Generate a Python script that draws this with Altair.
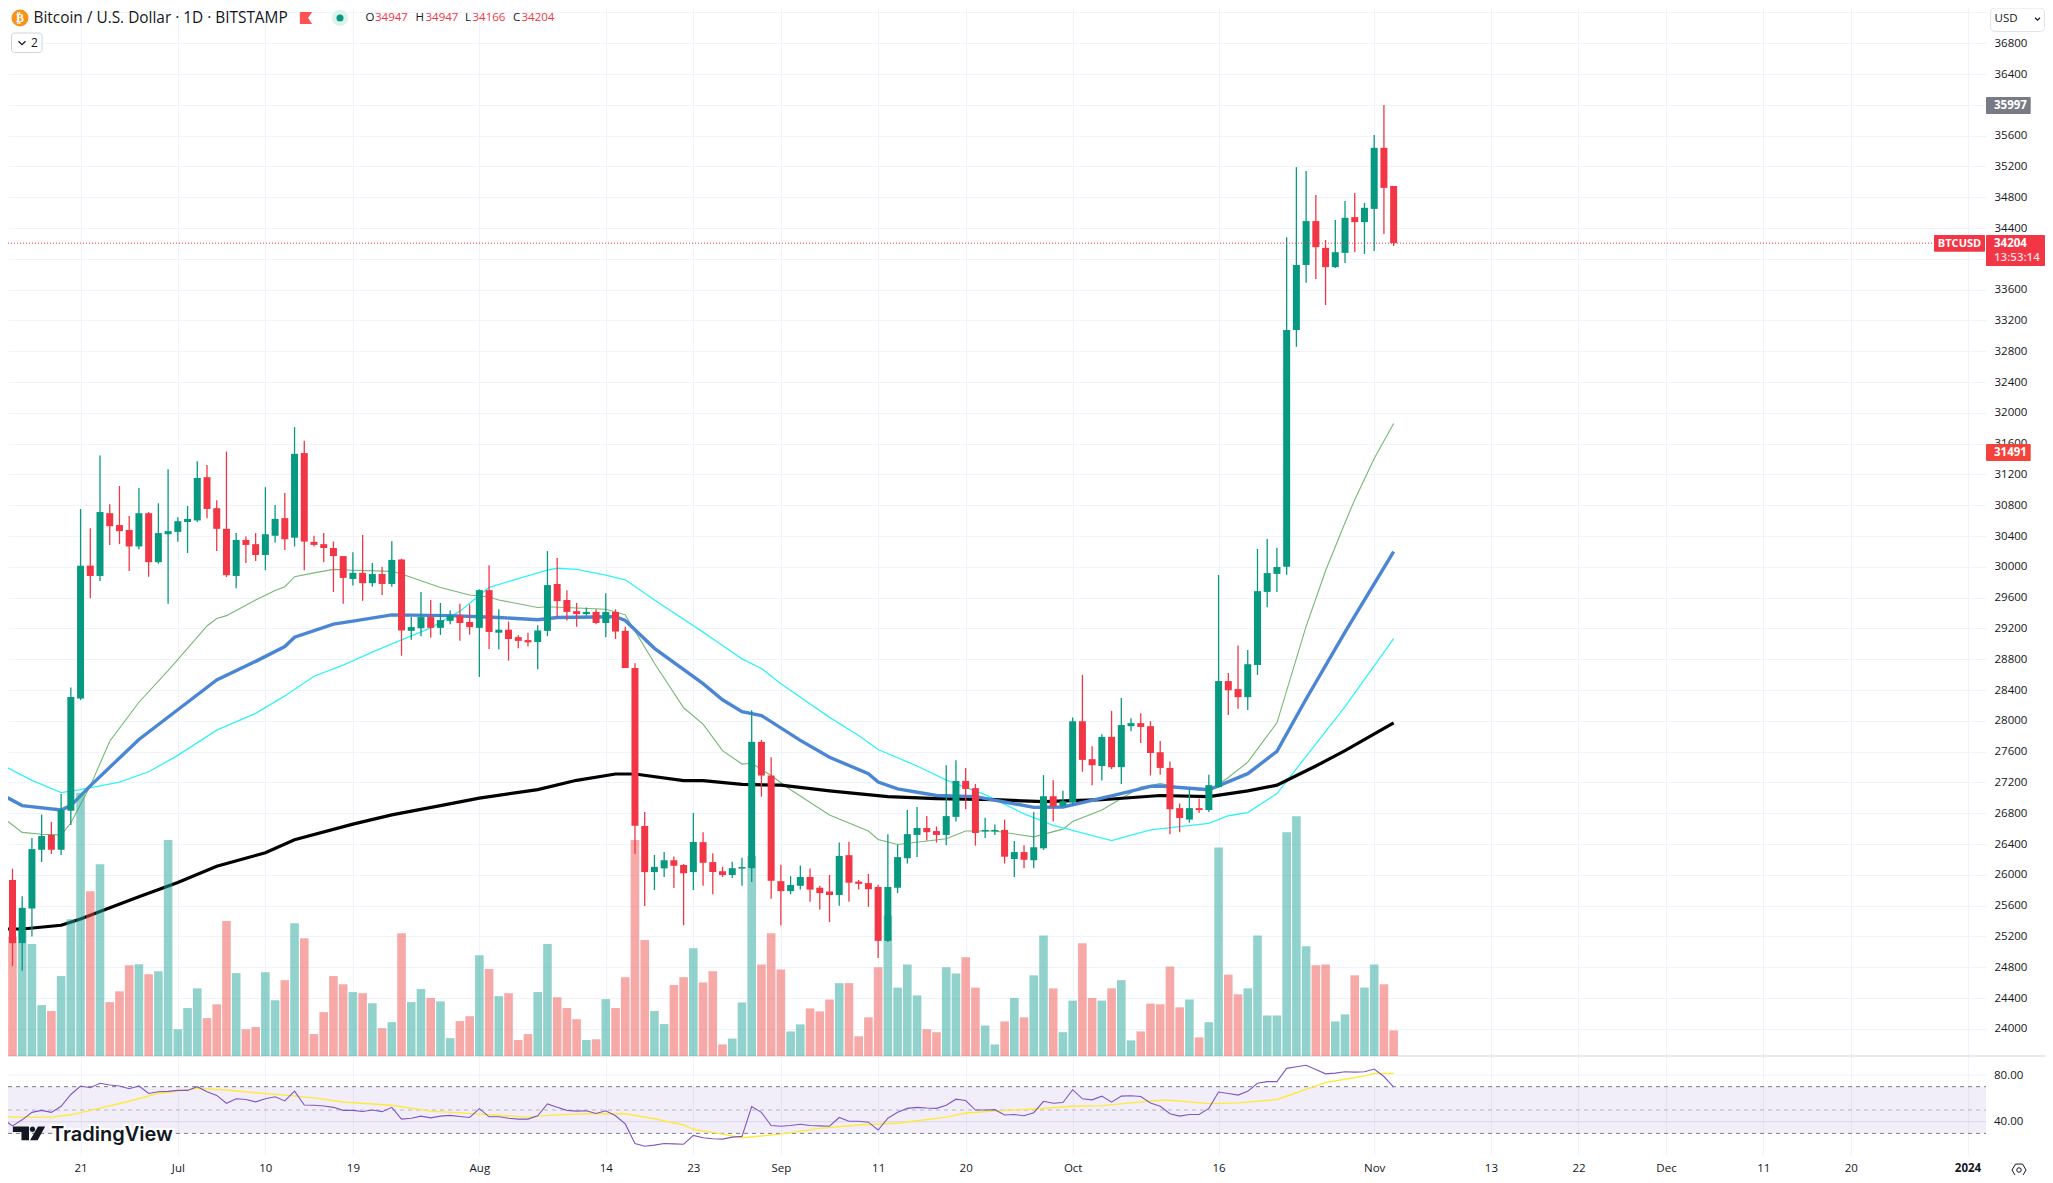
import altair as alt
import pandas as pd

opens = [25915,25934,25114,25563,26326,26519,26326,26833,28290,30016,29882,30697,30543,30479,30265,30697,30061,30424,30454,30583,
30603,31165,30762,30494,29882,30349,30295,30155,30404,30633,30379,31478,30325,30295,30245,30140,29843,29922,29788,29907,
29778,30096,29169,29203,29348,29208,29299,29367,29285,29208,29698,29145,29184,29087,29049,29024,29169,29778,29570,29425,
29387,29415,29271,29415,29169,28686,26635,26036,26084,26190,26128,26036,26425,26166,26047,25998,26082,26087,27727,27290,
25918,25789,25858,25973,25833,25784,25739,26256,25913,25893,25843,25143,25833,26216,26519,26609,26569,26519,26753,27220,
27126,26564,26564,26584,26206,26296,26191,26345,27021,26892,26942,27995,27503,27414,27792,27399,27931,27971,27931,27593,
27389,26867,26718,26867,26842,27140,28517,28413,28308,28726,29675,29909,30001,33076,33921,34491,34143,33893,34078,34542,
34477,34649,35442,34947]
highs = [26432,26079,25722,26480,26784,26688,27050,28435,30752,30503,31448,30812,31050,30662,31025,30712,30826,31269,30643,30792,
31373,31324,30866,31497,30439,30394,30439,31035,30802,30961,31815,31637,30404,30439,30329,30140,30190,30414,30051,29997,
30334,30106,29353,29673,29570,29531,29435,29522,29512,29708,30021,29449,29290,29111,29145,29242,30205,30116,29698,29531,
29473,29449,29658,29449,29222,28749,26818,26258,26297,26239,26142,26804,26554,26281,26107,26171,26221,28139,27752,27528,
26132,25983,26122,26082,25858,25998,26420,26430,25933,26012,25873,26529,26395,26842,26882,26763,26629,27424,27488,27389,
27180,26743,26654,26718,26440,26385,26818,27295,27230,27091,28045,28597,27672,27826,28130,28298,28035,28100,27995,27737,
27473,26927,27106,26991,27300,29894,28622,28979,28920,30232,30361,30247,34282,35191,35140,34830,34245,34505,34751,34857,
34728,35609,35997,34947]
lows = [25708,24814,24756,25201,26166,26272,26258,26649,28270,29594,29818,30285,30295,29947,30230,29872,30041,29522,30325,30180,
30583,30633,30205,29867,29723,30051,30076,29957,30315,30220,30265,29957,30265,30061,29673,29520,29758,29560,29743,29634,
29743,28846,29053,29100,29078,29116,29256,29039,29121,28571,28933,28928,28783,28942,28966,28672,29100,29353,29304,29222,
29367,29256,29087,29063,28686,26272,25597,25804,25973,25828,25346,25804,25858,25749,25972,25958,25858,25908,27016,25689,
25341,25749,25809,25650,25550,25386,25600,25650,25809,25585,24919,25128,25764,26147,26231,26445,26420,26385,26693,26852,
26380,26480,26519,26147,25972,26087,26087,26325,26693,26892,26917,27339,27165,27225,27374,27180,27866,27712,27290,27300,
26529,26554,26678,26803,26818,27131,28075,28159,28140,28597,29476,29675,29899,32858,33689,33740,33401,33883,33948,34087,
34064,34101,34324,34166]
closes = [25915,25114,25572,26335,26504,26326,26842,28310,30016,29882,30712,30528,30464,30265,30697,30061,30439,30464,30593,30623,
31155,30752,30494,29892,30349,30285,30155,30424,30623,30359,31468,30329,30285,30245,30140,29857,29922,29788,29907,29778,
30091,29174,29218,29348,29208,29309,29367,29271,29218,29698,29155,29184,29063,29039,29020,29174,29763,29555,29415,29387,
29415,29271,29415,29160,28686,26639,26036,26103,26190,26118,26021,26427,26157,26037,25998,26087,26102,27727,27290,25923,
25789,25868,25973,25809,25764,25739,26246,25898,25883,25814,25143,25843,26231,26529,26609,26554,26519,26763,27220,27116,
26544,26584,26584,26236,26296,26196,26360,27021,26892,26957,27995,27493,27424,27792,27399,27946,27971,27921,27583,27389,
26852,26738,26867,26842,27165,28517,28398,28308,28736,29685,29919,29998,33076,33921,34491,34152,33893,34087,34533,34477,
34663,35442,34922,34204]
volumes = [223,321,336,301,137,121,215,368,708,443,516,145,174,244,247,220,228,581,72,129,
182,102,139,363,223,72,78,225,150,204,357,317,59,118,215,193,172,169,142,75,
91,330,145,180,156,147,48,94,107,271,234,161,169,43,59,172,301,158,129,99,
43,45,153,129,212,581,312,121,86,191,212,290,198,228,31,47,144,538,246,330,
233,66,85,128,120,152,196,196,53,104,239,378,184,246,163,72,64,239,222,266,
184,82,31,93,156,104,217,324,182,64,149,303,156,149,182,204,42,66,141,139,
241,131,152,50,91,561,219,166,182,324,109,109,602,645,295,244,246,93,112,217,
184,246,193,69]
rsi = [42.2,36.4,41.6,48.0,49.7,48.0,53.2,63.3,70.6,69.1,72.9,71.4,70.6,68.3,70.6,64.2,65.7,66.0,66.8,66.8,
70.0,65.7,62.5,55.8,59.6,59.0,57.0,59.6,61.3,57.8,66.2,54.3,54.1,53.5,52.3,49.7,49.7,48.8,50.0,48.6,
52.3,42.2,43.0,44.8,43.3,44.8,45.4,44.5,43.6,51.2,44.2,44.2,43.0,42.2,42.2,45.1,55.2,52.3,49.7,49.1,
49.4,47.1,49.4,45.1,38.1,21.3,19.0,19.9,21.3,21.0,20.7,28.3,26.2,25.4,25.1,26.8,27.4,52.9,48.0,36.7,
36.1,36.7,37.8,36.7,36.4,36.1,43.6,40.4,40.4,39.6,32.9,43.0,48.0,51.4,52.3,51.7,51.4,54.1,59.3,58.1,
50.0,50.0,50.3,45.7,46.2,45.1,47.7,57.5,55.8,56.4,67.4,59.6,58.7,61.9,56.7,61.9,62.2,61.6,56.1,53.2,
46.8,44.8,46.2,46.2,51.4,65.4,64.2,62.8,66.0,72.9,74.3,74.3,85.7,87.1,88.3,84.8,81.0,81.6,82.8,82.5,
82.8,85.1,78.7,69.7]

black_days = [0,2,6,8,10,14,18,22,27,30,36,40,45,49,55,59,63,65,70,72,76,80,85,91,96,102,107,113,119,124,128,131,135,138,143]
black_ma = [25297,25297,25346,25428,25524,25717,25901,26113,26287,26456,26659,26779,26900,26997,27108,27228,27310,27310,27224,27225,
27175,27165,27091,27016,26991,26976,26952,26976,27031,27016,27091,27165,27414,27613,27975]
blue_days = [0,2,6,7,9,14,19,22,26,29,30,34,36,40,46,51,55,57,63,64,67,72,74,76,78,82,85,89,90,92,96,100,106,109,114,118,119,124,128,131,134,138,143]
blue_ma = [27035,26900,26842,26900,27156,27759,28242,28532,28773,28966,29087,29256,29295,29377,29367,29343,29314,29343,29353,29304,
28942,28483,28274,28120,28070,27747,27528,27314,27205,27116,27031,27016,26877,26882,27026,27150,27155,27106,27314,27603,28284,29153,30197]
cyan_days = [0,3,6,8,10,12,15,18,22,26,29,32,35,38,40,44,47,50,53,56,57,59,62,64,67,72,74,76,78,80,85,88,90,94,97,101,105,108,114,118,124,126,128,131,134,138,143]
cyan_ma = [27422,27228,27069,27108,27156,27204,27339,27552,27880,28097,28324,28580,28725,28894,29000,29208,29425,29733,29847,29957,
29982,29967,29892,29832,29570,29153,28979,28805,28681,28482,28045,27811,27628,27414,27230,27041,26793,26643,26445,26584,26668,26768,26808,27056,27538,28184,29069]
green_days = [0,2,4,6,7,9,11,14,17,19,21,22,23,26,28,29,30,32,34,36,40,41,45,48,50,51,55,56,62,64,67,70,72,74,76,77,79,81,85,89,90,92,97,99,102,106,109,110,113,115,117,119,122,124,126,128,131,134,136,138,139,141,143]
green_ma = [26746,26552,26528,26519,26673,27156,27735,28242,28653,28942,29232,29329,29367,29570,29693,29743,29872,29922,29967,29957,
29942,29907,29733,29634,29609,29570,29473,29483,29449,29377,28749,28170,27957,27613,27439,27449,27290,27106,26778,26569,26460,26395,26470,26569,26569,26494,26594,26693,26842,26991,27140,27185,27116,27091,27265,27464,27975,29228,29950,30572,30873,31407,31861]
rsi_ma_days = [0,1,5,7,9,13,16,18,20,23,26,29,32,35,40,44,49,54,56,60,64,67,70,71,74,76,80,84,88,92,97,99,103,106,110,113,116,119,120,124,127,131,133,134,136,138,140,141,143]
rsi_ma = [45.1,43.9,43.9,45.9,49.7,57.5,64.2,66.2,68.5,67.1,64.8,62.8,60.4,56.9,54.1,49.1,46.5,43.9,45.4,46.8,46.8,42.5,37.2,33.5,29.4,26.2,29.4,34.3,37.2,38.7,43.9,47.4,49.7,50.9,53.2,53.8,56.1,58.4,58.4,55.5,56.1,59.0,64.8,67.7,73.5,76.4,79.3,81.3,81.3]

price_ticks = list(range(24000, 37201, 400))
time_ticks = [(2023,6,21),(2023,7,1),(2023,7,10),(2023,7,19),(2023,8,1),(2023,8,14),(2023,8,23),(2023,9,1),(2023,9,11),(2023,9,20),
(2023,10,1),(2023,10,16),(2023,11,1),(2023,11,13),(2023,11,22),(2023,12,1),(2023,12,11),(2023,12,20),(2024,1,1)]

FONT = "Open Sans"
GRID = "#f0f3fa"
TEXT = "#131722"
UP, DOWN = "#089981", "#f23645"
W, H = 1978, 1147

start = pd.Timestamp("2023-06-13")
iso = lambda t: t.strftime("%Y-%m-%dT%H:%M:%SZ")
day = lambda n: iso(start + pd.Timedelta(days=n))

candles = pd.DataFrame({"date": [day(i) for i in range(len(opens))], "open": opens, "high": highs,
                        "low": lows, "close": closes, "volume": volumes, "rsi": rsi})
def series(days, values):
    return pd.DataFrame({"date": [day(d) for d in days], "value": values})

xs = alt.Scale(type="utc", domain=[day(0.54), day(203.9)], padding=0, nice=False)
yp = alt.Scale(domain=[37258.1, 22362], range=[0, H], nice=False, zero=False)
yv = alt.Scale(domain=[0, 1000], range=[1048, 676.3], nice=False)
yr = alt.Scale(domain=[80, 40], range=[1067, 1113.7], nice=False, zero=False)
is_up = "datum.close >= datum.open"

x_axis = alt.Axis(values=[alt.DateTime(year=y, month=m, date=d, utc=True) for y, m, d in time_ticks], title=None, grid=True, gridColor=GRID, gridWidth=1,
    domain=False, ticks=False, labelFont=FONT, labelFontSize=11.5, labelColor=TEXT, labelPadding=7, labelOverlap=False,
    labelBound=False, labelFlush=False,
    labelFontWeight={"condition": {"test": "utcyear(datum.value) === 2024", "value": 700}, "value": 400},
    labelExpr="utcyear(datum.value)==2024 ? '2024' : utcdate(datum.value)==1 ? utcFormat(datum.value,'%b') : utcFormat(datum.value,'%-d')")
X = alt.X("date:T", scale=xs, axis=x_axis, title=None)
y_axis = alt.Axis(orient="right", values=price_ticks, title=None, grid=True, gridColor=GRID, gridWidth=1, domain=False,
    ticks=False, labelFont=FONT, labelFontSize=11.5, labelColor=TEXT, labelPadding=8, labelOverlap=False, labelFlush=False,
    labelExpr="datum.value > 37000 ? '' : datum.value")

base = alt.Chart(candles)
axes = base.mark_point(opacity=0).encode(x=X, y=alt.Y("close:Q", scale=yp, axis=y_axis))

def ma(days, values, color, width):
    return alt.Chart(series(days, values)).mark_line(color=color, strokeWidth=width, interpolate="linear").encode(
        x=X, y=alt.Y("value:Q", scale=yp, axis=None))

lines = [ma(green_days, green_ma, "#76b874", 1.1), ma(cyan_days, cyan_ma, "#2ff3f8", 1.3),
         ma(black_days, black_ma, "#000000", 3.2), ma(blue_days, blue_ma, "#4a86d4", 3.4)]

vol = base.mark_bar(size=8.6, opacity=0.5).encode(x=X, y=alt.Y("volume:Q", scale=yv, axis=None),
    color=alt.condition(is_up, alt.value("#26a69a"), alt.value("#ef5350")))
wick = base.mark_rule(strokeWidth=1.3).encode(x=X, y=alt.Y("low:Q", scale=yp, axis=None), y2="high:Q",
    color=alt.condition(is_up, alt.value(UP), alt.value(DOWN)))
body = base.mark_bar(size=7).encode(x=X, y=alt.Y("open:Q", scale=yp, axis=None), y2="close:Q",
    color=alt.condition(is_up, alt.value(UP), alt.value(DOWN)))

last_price = alt.Chart(pd.DataFrame({"p": [closes[-1]]})).mark_rule(color=DOWN, strokeWidth=1, strokeDash=[1, 2]).encode(
    x=alt.value(0), x2=alt.value(1925), y=alt.Y("p:Q", scale=yp, axis=None))

one = alt.Data(values=[{}])
P = lambda v: v - 8

def box(x0, y0, x1, y1, fill, stroke=None, radius=0):
    kw = dict(fill=fill, cornerRadius=radius)
    if stroke:
        kw.update(stroke=stroke, strokeWidth=1)
    return alt.Chart(one).mark_rect(**kw).encode(x=alt.value(P(x0)), x2=alt.value(P(x1)), y=alt.value(P(y0)), y2=alt.value(P(y1)))

def label(txt, x, y, color=TEXT, size=11.5, weight=400, font=FONT, align="left", **kw):
    return alt.Chart(one).mark_text(text=txt, color=color, fontSize=size, fontWeight=weight, font=font, align=align,
                                    baseline="middle", **kw).encode(x=alt.value(P(x)), y=alt.value(P(y)))

def glyph(shape, x, y, size, fill=None, stroke=None, sw=1):
    kw = dict(shape=shape, size=size, opacity=1)
    if fill:
        kw.update(filled=True, fill=fill, strokeWidth=0)
    else:
        kw.update(filled=False, stroke=stroke, strokeWidth=sw)
    return alt.Chart(one).mark_point(**kw).encode(x=alt.value(P(x)), y=alt.value(P(y)))

# RSI pane
rsi_band = alt.Chart(pd.DataFrame({"top": [70], "bot": [30]})).mark_rect(fill="#7e57c2", opacity=0.1).encode(
    x=alt.value(0), x2=alt.value(W), y=alt.Y("top:Q", scale=yr, axis=None), y2="bot:Q")
def rsi_rule(level, color, dash, width=1):
    kw = dict(color=color, strokeWidth=width)
    if dash:
        kw["strokeDash"] = dash
    return alt.Chart(pd.DataFrame({"v": [level]})).mark_rule(**kw).encode(
        x=alt.value(0), x2=alt.value(W), y=alt.Y("v:Q", scale=yr, axis=None))
rsi_layers = [rsi_rule(80, GRID, None), rsi_rule(40, "#e4e2ee", None), rsi_band,
              rsi_rule(70, "#787b86", [4, 4]), rsi_rule(50, "#b4b5bd", [4, 4]), rsi_rule(30, "#787b86", [4, 4])]
rsi_line = base.mark_line(color="#7e57c2", strokeWidth=1.1).encode(x=X, y=alt.Y("rsi:Q", scale=yr, axis=None))
rsi_avg = alt.Chart(series(rsi_ma_days, rsi_ma)).mark_line(color="#ffe93b", strokeWidth=1.4).encode(
    x=X, y=alt.Y("value:Q", scale=yr, axis=None))

separator = alt.Chart(one).mark_rule(color="#e0e3eb", strokeWidth=1.5).encode(
    x=alt.value(0), x2=alt.value(P(2045)), y=alt.value(P(1056)))

# header
header = [
    glyph("circle", 20, 18, 290, fill="#f7931a"),
    label("₿", 20, 18, color="#ffffff", size=12, weight=700, font="DejaVu Sans", align="center"),
    label("Bitcoin / U.S. Dollar · 1D · BITSTAMP", 33.5, 18, size=15.4),
    glyph("M-1,-1 L1,-1 L0.35,0 L1,1 L-1,1 Z", 306, 18, 150, fill="#ff5252"),
    glyph("circle", 340, 18, 270, fill="#dff2ee"),
    glyph("circle", 340, 18, 50, fill=UP),
    label("O", 365.5, 18), label("34947", 375, 18, color=DOWN),
    label("H", 415.5, 18), label("34947", 425.5, 18, color=DOWN),
    label("L", 465, 18), label("34166", 472.5, 18, color=DOWN),
    label("C", 513, 18), label("34204", 521.5, 18, color=DOWN),
    box(11.5, 33, 42, 52.5, "#ffffff", stroke="#d1d4dc", radius=3),
    glyph("M-1,-0.5 L0,0.5 L1,-0.5", 22, 43, 49, stroke=TEXT, sw=1.2),
    label("2", 34.5, 43, size=12, align="center"),
]

# right side tags
tags = [
    box(1990.7, 8, 2044.5, 31.5, "#ffffff", stroke="#e0e3eb", radius=4),
    label("USD", 1994.5, 18.5),
    glyph("M-1,-0.5 L0,0.5 L1,-0.5", 2037.5, 19, 25, stroke=TEXT, sw=1.1),
    box(1986, 97, 2030.7, 114, "#787b86", radius=1),
    label("35997", 1994, 105.5, color="#ffffff", weight=700),
    box(1934, 235, 1985, 251.7, DOWN, radius=1),
    label("BTCUSD", 1959.5, 243.5, color="#ffffff", weight=700, size=11, align="center"),
    box(1986, 235, 2045, 266, DOWN, radius=1),
    label("34204", 1994, 244, color="#ffffff", weight=700),
    label("13:53:14", 1994, 258, color="#fbdcdf", weight=600),
    box(1986, 444, 2030.7, 461, "#f5433b", radius=1),
    label("31491", 1994, 452.5, color="#ffffff", weight=700),
    label("80.00", 1994, 1075.5), label("40.00", 1994, 1121.5),
    glyph("M-1,0 L-0.5,-0.85 L0.5,-0.85 L1,0 L0.5,0.85 L-0.5,0.85 Z", 2019, 1170, 196, stroke=TEXT, sw=1),
    glyph("circle", 2019, 1170, 20, stroke=TEXT, sw=1),
]

# watermark
logo_path = ("M-1,-0.435 L0.02,-0.435 L0.02,0.435 L-0.457,0.435 L-0.457,-0.087 L-1,-0.087 Z "
             "M0.07,-0.26 A0.17,0.17 0 1 0 0.41,-0.26 A0.17,0.17 0 1 0 0.07,-0.26 Z "
             "M0.587,-0.435 L1.04,-0.435 L0.565,0.435 L0.087,0.435 Z")
watermark = [
    label("TradingView", 51, 1134.5, color="#ffffff", size=20, weight=600, font="Inter", stroke="#ffffff", strokeWidth=4),
    glyph(logo_path, 28.7, 1133.3, 1000, fill="#131722"),
    label("TradingView", 51, 1134.5, color="#131722", size=20, weight=600, font="Inter"),
]

layers = [axes] + rsi_layers + [separator] + lines + [vol, wick, body, last_price, rsi_avg, rsi_line] + watermark + header + tags
chart = alt.layer(*layers).resolve_scale(y="independent").properties(
    width=W, height=H, autosize=alt.AutoSizeParams(type="none"),
    padding={"left": 0, "top": 0, "right": 59, "bottom": 20},
    background="#ffffff",
).configure_view(stroke=None)

chart.save("out.html", embed_options={"renderer": "svg", "actions": False})
